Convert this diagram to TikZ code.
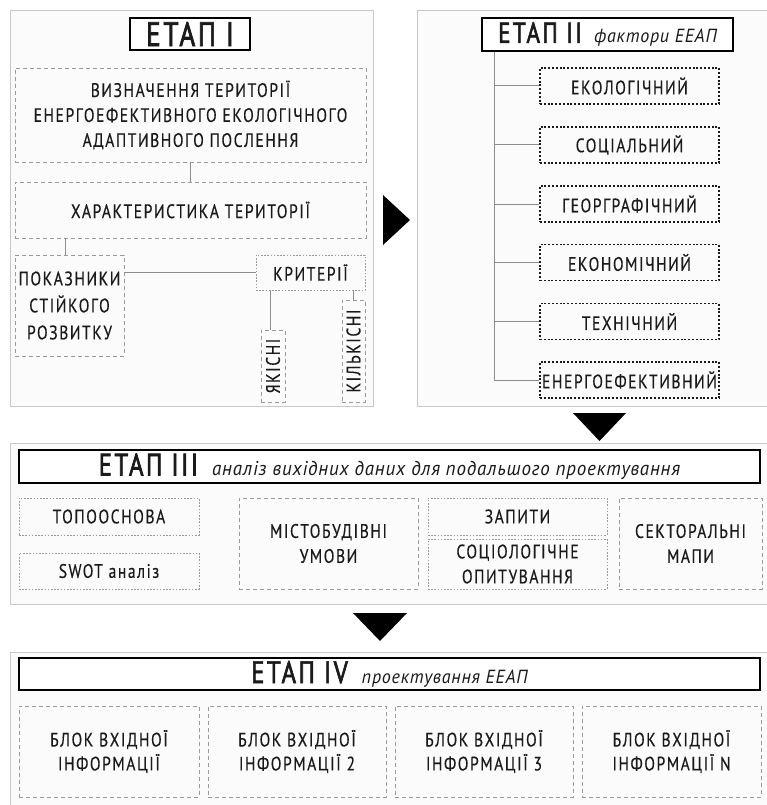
\documentclass[tikz,border=0pt]{standalone}
\usepackage{fontspec}
\setmainfont{PT Sans}[FakeStretch=0.8, LetterSpace=8, FakeBold=0.4]
\newfontfamily\headfont{PT Sans}[FakeStretch=0.8, LetterSpace=8, FakeBold=2]
\newfontfamily\subfont{PT Sans}[FakeStretch=0.95, LetterSpace=4]
\newcommand\bodysize{\fontsize{19.5}{25}\selectfont}
\newcommand\stagehead[2]{{\headfont\fontsize{#1}{#1}\selectfont #2}}
\newcommand\stagesub[2]{{\subfont\itshape\fontsize{#1}{#1}\selectfont #2}}

\definecolor{ink}{HTML}{1A1A1A}
\definecolor{panelline}{HTML}{C8C8C8}
\definecolor{panelfill}{HTML}{FBFBFB}
\definecolor{dashgrey}{HTML}{9A9A9A}
\definecolor{linkgrey}{HTML}{8C8C8C}

\tikzset{
  panel/.style={draw=panelline, fill=panelfill, line width=1pt},
  stagetitle/.style={draw=black, fill=white, line width=1.6pt},
  dbox/.style={draw=dashgrey, line width=0.8pt, dash pattern=on 4pt off 3pt},
  tbox/.style={draw=dashgrey, line width=0.8pt, dash pattern=on 1.6pt off 1.6pt},
  fbox/.style={draw=ink, line width=1.2pt, dash pattern=on 2pt off 1.8pt},
  link/.style={draw=linkgrey, line width=1pt},
  marker/.style={fill=black},
}

\begin{document}
\begin{tikzpicture}[x=1pt, y=-1pt,
  every node/.style={text=ink, font=\bodysize, inner sep=0pt, align=center}]
\useasboundingbox (0,0) rectangle (767,805);

% ---------- stage I ----------
\node[panel, minimum width=363pt, minimum height=395pt] (p1) at (191.5,208.5) {};
\node[stagetitle, line width=2pt, minimum width=120pt, minimum height=32pt] (t1) at (190,34)
  {\stagehead{34}{ЕТАП І}};
\node[dbox, minimum width=351pt, minimum height=94pt] (def) at (190.5,115)
  {ВИЗНАЧЕННЯ ТЕРИТОРІЇ\\ЕНЕРГОЕФЕКТИВНОГО ЕКОЛОГІЧНОГО\\АДАПТИВНОГО ПОСЛЕННЯ};
\node[dbox, minimum width=351pt, minimum height=56pt] (char) at (190.5,210)
  {ХАРАКТЕРИСТИКА ТЕРИТОРІЇ};
\node[dbox, minimum width=109pt, minimum height=101pt, font=\fontsize{19.5}{27}\selectfont] (pok) at (69.5,305.5)
  {ПОКАЗНИКИ\\СТІЙКОГО\\РОЗВИТКУ};
\node[tbox, minimum width=109pt, minimum height=35pt] (kryt) at (310.5,272.5) {КРИТЕРІЇ};
\node[dbox, minimum width=24pt, minimum height=72pt] (yak) at (273,366) {};
\node[rotate=90] at (yak) {ЯКІСНІ};
\node[dbox, minimum width=23pt, minimum height=102pt] (kil) at (353.5,351) {};
\node[rotate=90] at (kil) {КІЛЬКІСНІ};

\draw[link] (def.south) -- (char.north);
\draw[link] ([xshift=-4.5pt]pok.north) -- ([xshift=-4.5pt]pok.north |- char.south);
\draw[link] (kryt.west) -- (kryt.west -| pok.east);
\draw[link] ([xshift=-3pt]yak.north) -- ([xshift=-3pt]yak.north |- kryt.south);
\draw[link] (kil.north) -- (kil.north |- kryt.south);

\fill[marker] (383,195) -- (383,245) -- (410,220) -- cycle;

% ---------- stage II ----------
\node[panel, minimum width=353pt, minimum height=395pt] (p2) at (593.5,208.5) {};
\node[stagetitle, line width=1.5pt, minimum width=251pt, minimum height=33pt] (t2) at (607.5,34.5)
  {\stagehead{29}{ЕТАП ІІ}\hspace{12pt}\stagesub{19}{фактори ЕЕАП}};
\node[fbox, minimum width=179pt, minimum height=36pt] (f1) at (629.5,86) {ЕКОЛОГІЧНИЙ};
\node[fbox, minimum width=179pt, minimum height=36pt] (f2) at (629.5,145) {СОЦІАЛЬНИЙ};
\node[fbox, minimum width=179pt, minimum height=36pt] (f3) at (629.5,204) {ГЕОРГРАФІЧНИЙ};
\node[fbox, minimum width=179pt, minimum height=36pt] (f4) at (629.5,262.5) {ЕКОНОМІЧНИЙ};
\node[fbox, minimum width=179pt, minimum height=36pt] (f5) at (629.5,321.5) {ТЕХНІЧНИЙ};
\node[fbox, minimum width=179pt, minimum height=36pt] (f6) at (629.5,380) {ЕНЕРГОЕФЕКТИВНИЙ};

\coordinate (trunk) at ([xshift=13pt]t2.south west);
\draw[link] (trunk) |- (f6.west);
\foreach \f in {f1,f2,f3,f4,f5}
  \draw[link] (\f.west) -- (\f.west -| trunk);

\fill[marker] (573,413) -- (626,413) -- (599.5,441) -- cycle;

% ---------- stage III ----------
\node[panel, minimum width=760pt, minimum height=161pt] (p3) at (390,523.5) {};
\node[stagetitle, minimum width=741pt, minimum height=33pt] (t3) at (389.5,466.5)
  {\stagehead{31}{ЕТАП ІІІ}\hspace{14pt}\stagesub{20}{аналіз вихідних даних для подальшого проектування}};
\node[tbox, minimum width=180pt, minimum height=37pt] (topo) at (109,516.5) {ТОПООСНОВА};
\node[tbox, minimum width=180pt, minimum height=36pt] (swot) at (109,571) {SWOT аналіз};
\node[dbox, minimum width=179pt, minimum height=91pt] (misto) at (328.5,543.5) {МІСТОБУДІВНІ\\УМОВИ};
\node[tbox, minimum width=179pt, minimum height=37pt] (zap) at (517.5,516.5) {ЗАПИТИ};
\node[tbox, minimum width=179pt, minimum height=50pt] (soc) at (517.5,564) {СОЦІОЛОГІЧНЕ\\ОПИТУВАННЯ};
\node[dbox, minimum width=143pt, minimum height=91pt] (sekt) at (690.5,543.5) {СЕКТОРАЛЬНІ\\МАПИ};

\fill[marker] (353,613) -- (407,613) -- (380,641) -- cycle;

% ---------- stage IV ----------
\node[panel, minimum width=760pt, minimum height=158pt] (p4) at (390,731) {};
\node[stagetitle, minimum width=741pt, minimum height=32pt] (t4) at (389.5,674)
  {\stagehead{31}{ЕТАП IV}\hspace{14pt}\stagesub{19}{проектування ЕЕАП}};
\node[dbox, minimum width=180pt, minimum height=91pt, font=\fontsize{19.5}{24}\selectfont] (b1) at (109,751.5)
  {БЛОК ВХІДНОЇ\\ІНФОРМАЦІЇ};
\node[dbox, minimum width=178pt, minimum height=91pt, font=\fontsize{19.5}{24}\selectfont] (b2) at (297,751.5)
  {БЛОК ВХІДНОЇ\\ІНФОРМАЦІЇ 2};
\node[dbox, minimum width=178pt, minimum height=91pt, font=\fontsize{19.5}{24}\selectfont] (b3) at (484,751.5)
  {БЛОК ВХІДНОЇ\\ІНФОРМАЦІЇ 3};
\node[dbox, minimum width=179pt, minimum height=91pt, font=\fontsize{19.5}{24}\selectfont] (b4) at (671.5,751.5)
  {БЛОК ВХІДНОЇ\\ІНФОРМАЦІЇ N};
\end{tikzpicture}
\end{document}
